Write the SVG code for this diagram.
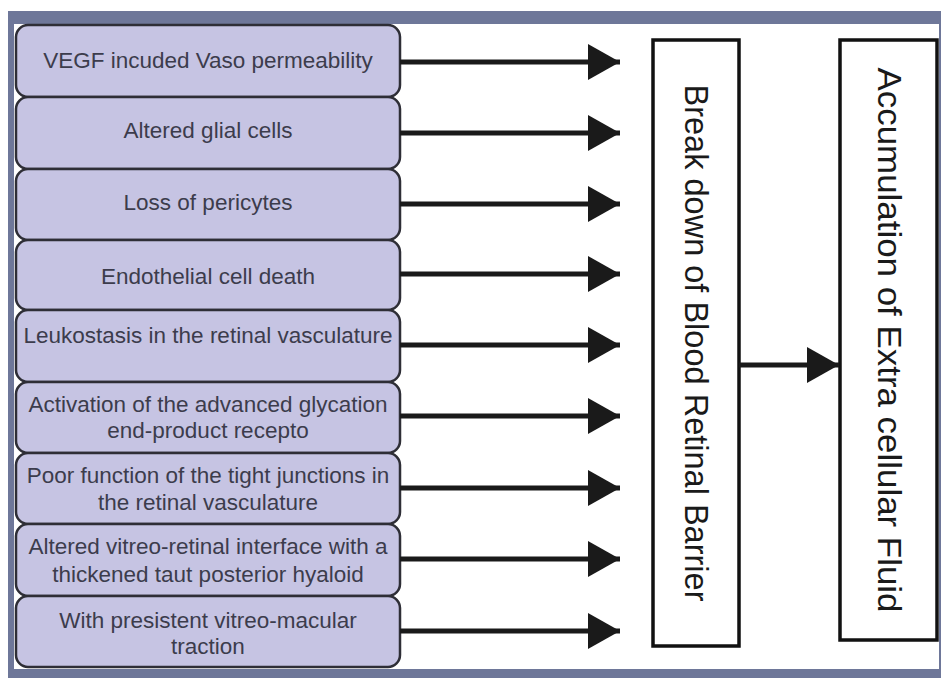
<svg xmlns="http://www.w3.org/2000/svg" width="941" height="678" viewBox="0 0 941 678">
<defs>
<style>
.cause rect{fill:#c6c4e3;stroke:#2e2e36;stroke-width:2.5}
.cause text{font-family:"Liberation Sans",Arial,sans-serif;font-size:22.5px;fill:#3c3c4c;text-anchor:middle}
.box{fill:#fff;stroke:#111;stroke-width:3.5}
.vt{font-family:"Liberation Sans",Arial,sans-serif;font-size:33px;fill:#1a1a1a;text-anchor:middle}
.conn line{stroke:#1a1a1a;stroke-width:5}
</style>
<marker id="ah" markerUnits="userSpaceOnUse" markerWidth="34" markerHeight="38" refX="32" refY="18" orient="auto">
<path d="M0,0 L32,18 L0,36 Z" fill="#1a1a1a"/>
</marker>
</defs>
<rect x="0" y="0" width="941" height="678" fill="#fff"/>
<rect x="8" y="11" width="933" height="667" fill="#6e7799"/>
<rect x="14" y="24" width="925" height="645" fill="#fff"/>

<g id="n1" class="cause"><rect x="16" y="25" width="384" height="72" rx="12"/><text x="208" y="68">VEGF incuded Vaso permeability</text></g>
<g id="n2" class="cause"><rect x="16" y="97" width="384" height="72" rx="12"/><text x="208" y="138">Altered glial cells</text></g>
<g id="n3" class="cause"><rect x="16" y="169" width="384" height="71" rx="12"/><text x="208" y="210">Loss of pericytes</text></g>
<g id="n4" class="cause"><rect x="16" y="240" width="384" height="70" rx="12"/><text x="208" y="284">Endothelial cell death</text></g>
<g id="n5" class="cause"><rect x="16" y="310" width="384" height="72" rx="12"/><text x="208" y="343">Leukostasis in the retinal vasculature</text></g>
<g id="n6" class="cause"><rect x="16" y="382" width="384" height="71" rx="12"/><text x="208" y="412">Activation of the advanced glycation</text><text x="208" y="438">end-product recepto</text></g>
<g id="n7" class="cause"><rect x="16" y="453" width="384" height="71" rx="12"/><text x="208" y="483">Poor function of the tight junctions in</text><text x="208" y="510">the retinal vasculature</text></g>
<g id="n8" class="cause"><rect x="16" y="524" width="384" height="72" rx="12"/><text x="208" y="554">Altered vitreo-retinal interface with a</text><text x="208" y="582">thickened taut posterior hyaloid</text></g>
<g id="n9" class="cause"><rect x="16" y="596" width="384" height="71" rx="12"/><text x="208" y="628">With presistent vitreo-macular</text><text x="208" y="654">traction</text></g>

<g id="brb"><rect class="box" x="653" y="40" width="86" height="606"/><text class="vt" transform="translate(685,343) rotate(90)" textLength="517" lengthAdjust="spacingAndGlyphs">Break down of Blood Retinal Barrier</text></g>
<g id="ecf"><rect class="box" x="840" y="40" width="97" height="600"/><text class="vt" transform="translate(878,340) rotate(90)" textLength="545" lengthAdjust="spacingAndGlyphs">Accumulation of Extra cellular Fluid</text></g>

<g id="connectors" class="conn">
<line x1="400" y1="62" x2="620" y2="62" marker-end="url(#ah)"/>
<line x1="400" y1="133" x2="620" y2="133" marker-end="url(#ah)"/>
<line x1="400" y1="204" x2="620" y2="204" marker-end="url(#ah)"/>
<line x1="400" y1="274" x2="620" y2="274" marker-end="url(#ah)"/>
<line x1="400" y1="345" x2="620" y2="345" marker-end="url(#ah)"/>
<line x1="400" y1="416" x2="620" y2="416" marker-end="url(#ah)"/>
<line x1="400" y1="488" x2="620" y2="488" marker-end="url(#ah)"/>
<line x1="400" y1="559" x2="620" y2="559" marker-end="url(#ah)"/>
<line x1="400" y1="631" x2="620" y2="631" marker-end="url(#ah)"/>
<line x1="739" y1="365" x2="839" y2="365" marker-end="url(#ah)"/>
</g>
</svg>
